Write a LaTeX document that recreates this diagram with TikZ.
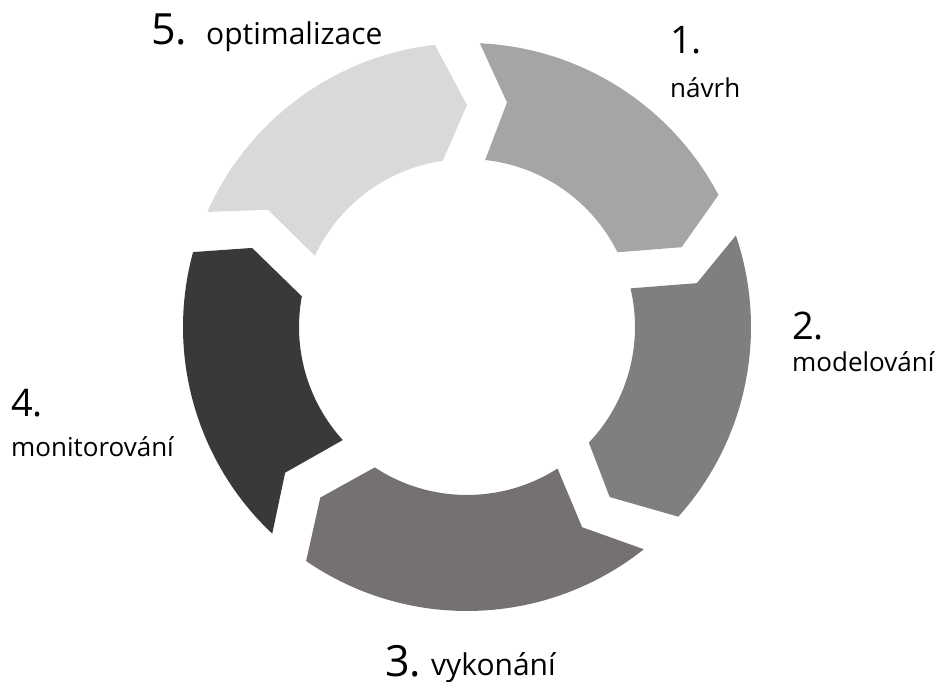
\documentclass[tikz,border=0pt]{standalone}
\usepackage{fontspec}
\setmainfont{Open Sans}
\definecolor{segA}{HTML}{A5A5A5}
\definecolor{segB}{HTML}{7F7F7F}
\definecolor{segC}{HTML}{767171}
\definecolor{segD}{HTML}{3B3838}
\definecolor{segE}{HTML}{D9D9D9}
\begin{document}
\begin{tikzpicture}[x=1pt,y=1pt,
  numlabel/.style={font=\fontsize{38}{44}\selectfont, anchor=base west, inner sep=0pt, text=black},
  wordlabel/.style={font=\fontsize{26}{31}\selectfont, anchor=base west, inner sep=0pt, text=black},
  bignum/.style={numlabel, font=\fontsize{43}{50}\selectfont},
  bigword/.style={wordlabel, font=\fontsize{30}{36}\selectfont}]
\useasboundingbox (0,0) rectangle (939,682);

% ring of five chevron arc segments, clockwise
\begin{scope}[shift={(467,355)}]
  % 1 - top right
  \fill[segA] (87.4:284pt) arc[start angle=87.4, end angle=27.7, radius=284pt]
    -- (20.4:229pt) -- (26.4:168pt)
    arc[start angle=26.4, end angle=83.8, radius=168pt]
    -- (79.9:228pt) -- cycle;
  % 2 - right
  \fill[segB] (18.8:284pt) arc[start angle=18.8, end angle=-41.9, radius=284pt]
    -- (-50:222pt) -- (-43.5:168pt)
    arc[start angle=-43.5, end angle=13.3, radius=168pt]
    -- (10.8:234pt) -- cycle;
  % 3 - bottom
  \fill[segC] (-51.5:284pt) arc[start angle=-51.5, end angle=-124.5, radius=284pt]
    -- (-130.7:225pt) -- (-123.3:168pt)
    arc[start angle=-123.3, end angle=-57.4, radius=168pt]
    -- (-60.1:231pt) -- cycle;
  % 4 - left
  \fill[segD] (-133.3:284pt) arc[start angle=-133.3, end angle=-195.3, radius=284pt]
    -- (-200.2:229pt) -- (-190.5:168pt)
    arc[start angle=-190.5, end angle=-137.7, radius=168pt]
    -- (-141.3:233pt) -- cycle;
  % 5 - top left
  \fill[segE] (-203.9:284pt) arc[start angle=-203.9, end angle=-263.5, radius=284pt]
    -- (-270:222pt) -- (-261.7:168pt)
    arc[start angle=-261.7, end angle=-205.1, radius=168pt]
    -- (-210.5:231pt) -- cycle;
\end{scope}

% step labels
\node[numlabel]  (n1) at (670,628) {1.};
\node[wordlabel] (w1) at (670,584) {návrh};
\node[numlabel]  (n2) at (792,342) {2.};
\node[wordlabel] (w2) at (792,310) {modelování};
\node[bignum]    (n3) at (385,5) {3.};
\node[bigword]   (w3) at (431,6) {vykonání};
\node[numlabel]  (n4) at (11,265) {4.};
\node[wordlabel] (w4) at (11,225) {monitorování};
\node[bignum]    (n5) at (151,637) {5.};
\node[bigword]   (w5) at (206,637) {optimalizace};
\end{tikzpicture}
\end{document}
